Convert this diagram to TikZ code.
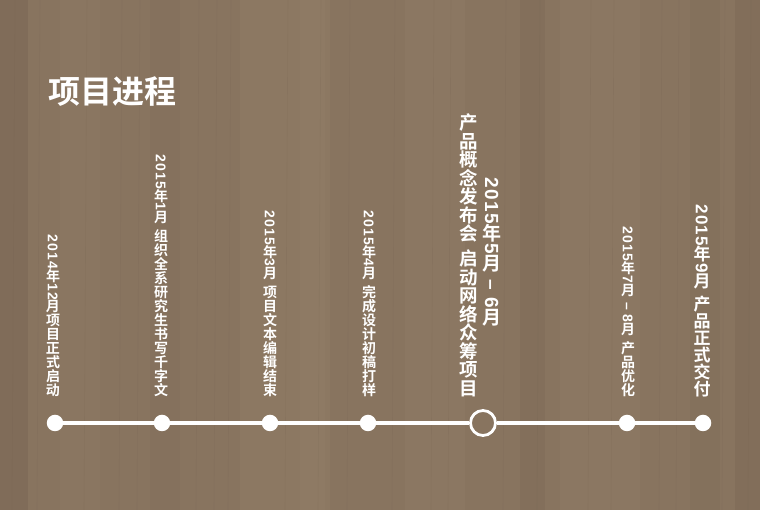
\documentclass[tikz,border=0pt]{standalone}
\usepackage{fontspec}
\setmainfont{Liberation Sans}[LetterSpace=8]
\newfontfamily\cjkfont{Noto Sans CJK SC}[BoldFont={Noto Sans CJK SC Bold}]
\usepackage{xcolor}
\usepackage{tikz}
\usetikzlibrary{positioning}

\definecolor{wood}{RGB}{136,116,95}
\definecolor{woodlight}{RGB}{160,140,116}
\definecolor{wooddark}{RGB}{110,92,76}

% upright CJK glyphs inside a column that is turned clockwise
\newcommand{\cj}[1]{\cjloop#1\relax}
\def\cjloop#1{\ifx\relax#1\else\rotatebox[origin=c]{90}{\raisebox{0pt}[0.86em][0.14em]{\makebox[1em]{\cjkfont\bfseries#1}}}\expandafter\cjloop\fi}

\begin{document}
\begin{tikzpicture}[
    x=1pt, y=1pt,
    mile/.style={circle, fill=white, inner sep=0pt, minimum size=16.5pt},
    hollow/.style={circle, draw=white, line width=2.8pt, inner sep=0pt, minimum size=25pt},
    tline/.style={white, line width=3.2pt},
    lbl/.style={rotate=-90, anchor=east, inner sep=0pt, text=white, font=\bfseries\fontsize{14}{16}\selectfont},
    title/.style={inner sep=0pt, text=white, font=\cjkfont\bfseries\fontsize{32}{36}\selectfont}
]
\useasboundingbox (0,0) rectangle (760,510);

% Wood panel
\fill[wood] (0,0) rectangle (760,510);
\foreach \xa/\w/\c/\o in {0/28/wooddark/0.3, 60/40/woodlight/0.12, 150/30/wooddark/0.1,
    240/90/woodlight/0.18, 300/25/woodlight/0.12, 405/60/woodlight/0.15, 520/25/wooddark/0.18,
    560/80/woodlight/0.15, 690/30/wooddark/0.12, 735/25/wooddark/0.22}
  \fill[\c, opacity=\o] (\xa,0) rectangle ++(\w,510);
\foreach \xa in {12,37,84,119,137,196,214,228,285,318,347,392,431,448,503,537,588,611,659,676,722,748}
  \draw[wooddark, opacity=0.15, line width=0.6pt] (\xa,0) -- (\xa+3,510);

% Title
\node[title] (ttl) at (112,418) {项目进程};

% Milestones
\node[mile] (d1) at (55,87) {};
\node[mile] (d2) at (162,87) {};
\node[mile] (d3) at (270,87) {};
\node[mile] (d4) at (368,87) {};
\node[hollow] (d5) at (483,87) {};
\node[mile] (d6) at (627,87) {};
\node[mile] (d7) at (703,87) {};

\draw[tline] (d1) -- (d2);
\draw[tline] (d2) -- (d3);
\draw[tline] (d3) -- (d4);
\draw[tline] (d4) -- (d5);
\draw[tline] (d5) -- (d6);
\draw[tline] (d6) -- (d7);

% Column labels
\node[lbl] (t1) at (53,112) {2014\cj{年}12\cj{月项目正式启动}};
\node[lbl] (t2) at (161,112) {2015\cj{年}1\cj{月}\ \cj{组织全系研究生书写千字文}};
\node[lbl] (t3) at (270,112) {2015\cj{年}3\cj{月}\ \cj{项目文本编辑结束}};
\node[lbl] (t4) at (369,112) {2015\cj{年}4\cj{月}\ \cj{完成设计初稿打样}};
\node[lbl, font=\bfseries\fontsize{18.5}{20}\selectfont] (t5) at (469,112) {\cj{产品概念发布会}\ \cj{启动网络众筹项目}};
\node[lbl, font=\bfseries\fontsize{19}{21}\selectfont] (t5d) at (492,183) {2015\cj{年}5\cj{月}\ --\ 6\cj{月}};
\node[lbl] (t6) at (628,112) {2015\cj{年}7\cj{月}\ --\ 8\cj{月}\ \cj{产品优化}};
\node[lbl, font=\bfseries\fontsize{17}{19}\selectfont] (t7) at (702,112) {2015\cj{年}9\cj{月}\ \cj{产品正式交付}};
\end{tikzpicture}
\end{document}
